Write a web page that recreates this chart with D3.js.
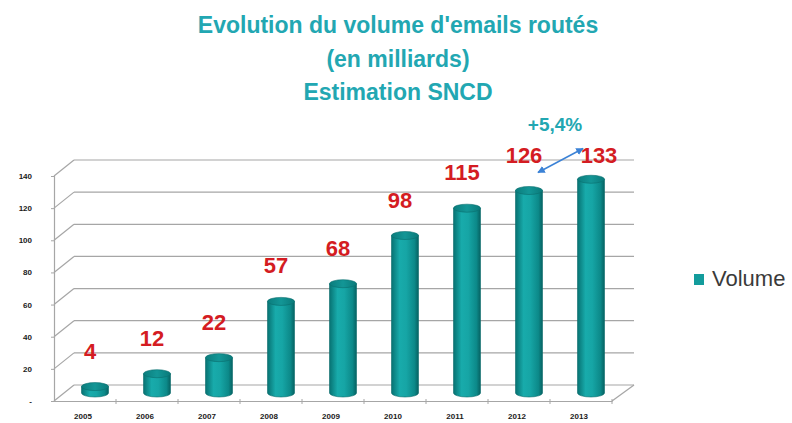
<!DOCTYPE html>
<html>
<head>
<meta charset="utf-8">
<script src="https://cdn.jsdelivr.net/npm/d3@7"></script>
<style>
  html, body { margin: 0; padding: 0; background: #fff; }
  svg { display: block; }
</style>
</head>
<body>
<div id="chart"></div>
<script>
// Chart data
const years = ["2005", "2006", "2007", "2008", "2009", "2010", "2011", "2012", "2013"];
const volumes = [4, 12, 22, 57, 68, 98, 115, 126, 133];
const yTicks = [0, 20, 40, 60, 80, 100, 120, 140];
const titleLines = ["Evolution du volume d'emails routés", "(en milliards)", "Estimation SNCD"];
const growthLabel = "+5,4%";
const seriesName = "Volume";

const width = 792, height = 423;
const teal = "#22a7b2";
const red = "#d41c22";
const gridColor = "#a6a6a6";

const svg = d3.select("#chart").append("svg")
    .attr("width", width)
    .attr("height", height)
    .attr("viewBox", [0, 0, width, height]);

const defs = svg.append("defs");

// cylinder side shading
const grad = defs.append("linearGradient")
    .attr("id", "cyl")
    .attr("x1", "0%").attr("x2", "100%").attr("y1", "0%").attr("y2", "0%");
[["0%", "#077272"], ["30%", "#18abab"], ["55%", "#16a5a5"], ["85%", "#0c8989"], ["100%", "#066262"]]
    .forEach(([o, c]) => grad.append("stop").attr("offset", o).attr("stop-color", c));

const topGrad = defs.append("linearGradient")
    .attr("id", "cylTop")
    .attr("x1", "0%").attr("x2", "100%").attr("y1", "0%").attr("y2", "0%");
[["0%", "#0b7d7d"], ["50%", "#139696"], ["100%", "#0a7a7a"]]
    .forEach(([o, c]) => topGrad.append("stop").attr("offset", o).attr("stop-color", c));

defs.append("marker")
    .attr("id", "arrowhead")
    .attr("viewBox", "0 -5 10 10")
    .attr("refX", 9)
    .attr("refY", 0)
    .attr("markerWidth", 5)
    .attr("markerHeight", 5)
    .attr("orient", "auto-start-reverse")
    .append("path")
    .attr("d", "M0,-5L10,0L0,5Z")
    .attr("fill", "#3b82d6");

// Scales (front plane of the 3D box)
const x = d3.scaleBand()
    .domain(years)
    .range([54, 612])
    .paddingInner(0)
    .paddingOuter(0);

const y = d3.scaleLinear()
    .domain([0, 140])
    .range([401, 176]);

// depth offset of the back wall
const depth = { dx: 20, dy: -16 };

// Title
svg.append("g")
    .selectAll("text")
    .data(titleLines)
    .enter().append("text")
    .attr("x", 398)
    .attr("y", (d, i) => 33 + i * 33.5)
    .attr("text-anchor", "middle")
    .attr("fill", teal)
    .attr("font-family", "'Liberation Sans', Arial, sans-serif")
    .attr("font-weight", "bold")
    .attr("font-size", "23px")
    .text(d => d);

// Walls: left wall edges and back gridlines
const grid = svg.append("g").attr("class", "grid")
    .attr("stroke", gridColor)
    .attr("stroke-width", 1.2)
    .attr("fill", "none");

grid.selectAll("line.back")
    .data(yTicks)
    .enter().append("line")
    .attr("class", "back")
    .attr("x1", x.range()[0] + depth.dx)
    .attr("x2", x.range()[1] + depth.dx + 2)
    .attr("y1", d => y(d) + depth.dy)
    .attr("y2", d => y(d) + depth.dy);

grid.selectAll("line.side")
    .data(yTicks)
    .enter().append("line")
    .attr("class", "side")
    .attr("x1", x.range()[0])
    .attr("x2", x.range()[0] + depth.dx)
    .attr("y1", d => y(d))
    .attr("y2", d => y(d) + depth.dy);

// right floor edge
grid.append("line")
    .attr("x1", x.range()[1])
    .attr("y1", y(0))
    .attr("x2", x.range()[1] + depth.dx + 2)
    .attr("y2", y(0) + depth.dy);

// Y axis (front edge of left wall)
const yAxis = svg.append("g")
    .attr("transform", `translate(${x.range()[0]},0)`)
    .call(d3.axisLeft(y)
        .tickValues(yTicks)
        .tickFormat(d => d === 0 ? "-" : d)
        .tickSize(3)
        .tickPadding(19));
yAxis.select(".domain").attr("stroke", gridColor).attr("stroke-width", 1.2);
yAxis.selectAll(".tick line").attr("stroke", gridColor);
yAxis.selectAll(".tick text")
    .attr("fill", "#1a1a1a")
    .attr("font-family", "'Liberation Sans', Arial, sans-serif")
    .attr("font-weight", "bold")
    .attr("font-size", "8px");

// X axis (front edge of floor)
const xAxis = svg.append("g")
    .attr("transform", `translate(0,${y(0)})`)
    .call(d3.axisBottom(x).tickSize(0).tickPadding(12));
xAxis.select(".domain").attr("stroke", gridColor).attr("stroke-width", 1.2);
xAxis.selectAll(".tick text")
    .attr("fill", "#1a1a1a")
    .attr("font-family", "'Liberation Sans', Arial, sans-serif")
    .attr("font-weight", "bold")
    .attr("font-size", "8px")
    .attr("dx", -2);

// tick marks between categories
xAxis.selectAll("line.sep")
    .data(years.slice(1).concat(["end"]))
    .enter().append("line")
    .attr("class", "sep")
    .attr("x1", (d, i) => x.range()[0] + (i + 1) * x.step())
    .attr("x2", (d, i) => x.range()[0] + (i + 1) * x.step())
    .attr("y1", -2)
    .attr("y2", 3)
    .attr("stroke", gridColor);

// Cylinders at mid depth
const r = 13.5, ry = 4;
const cx = d => x(d.year) + x.bandwidth() / 2 + depth.dx / 2;
const yMid = v => y(v) + depth.dy / 2;

const data = years.map((year, i) => ({ year, value: volumes[i] }));

const bars = svg.append("g").attr("class", "bars")
    .selectAll("g")
    .data(data)
    .enter().append("g");

bars.append("path")
    .attr("d", d => {
        const c = cx(d), t = yMid(d.value), b = yMid(0);
        return `M${c - r},${t} L${c - r},${b} A${r},${ry} 0 0 0 ${c + r},${b} L${c + r},${t} Z`;
    })
    .attr("fill", "url(#cyl)")
    .attr("stroke", "#0a6b6b")
    .attr("stroke-width", 0.6);

bars.append("ellipse")
    .attr("cx", cx)
    .attr("cy", d => yMid(d.value))
    .attr("rx", r)
    .attr("ry", ry)
    .attr("fill", "url(#cylTop)")
    .attr("stroke", "#0a6e6e")
    .attr("stroke-width", 0.6);

// Value labels (last one sits level with the previous one, next to the annotation)
const labelY = (d, i) => {
    if (i === data.length - 1) return yMid(volumes[i - 1]) - 28;
    return yMid(d.value) - 28;
};

svg.append("g").attr("class", "labels")
    .selectAll("text")
    .data(data)
    .enter().append("text")
    .attr("x", (d, i) => cx(d) + (i === data.length - 1 ? 8 : -5))
    .attr("y", labelY)
    .attr("text-anchor", "middle")
    .attr("fill", red)
    .attr("font-family", "'Liberation Sans', Arial, sans-serif")
    .attr("font-weight", "bold")
    .attr("font-size", "22px")
    .text(d => d.value);

// Growth annotation between the last two years
const a = data[data.length - 2], bLast = data[data.length - 1];
svg.append("line")
    .attr("x1", cx(a) + 9)
    .attr("y1", labelY(a, data.length - 2) + 10)
    .attr("x2", cx(bLast) - 8)
    .attr("y2", labelY(bLast, data.length - 1) - 14)
    .attr("stroke", "#3b82d6")
    .attr("stroke-width", 1.5)
    .attr("marker-start", "url(#arrowhead)")
    .attr("marker-end", "url(#arrowhead)");

svg.append("text")
    .attr("x", (cx(a) + cx(bLast)) / 2 - 5)
    .attr("y", 131)
    .attr("text-anchor", "middle")
    .attr("fill", teal)
    .attr("font-family", "'Liberation Sans', Arial, sans-serif")
    .attr("font-weight", "bold")
    .attr("font-size", "19px")
    .text(growthLabel);

// Legend
const legend = svg.append("g").attr("transform", "translate(694,274)");
legend.append("rect")
    .attr("width", 10)
    .attr("height", 11)
    .attr("fill", "#139c9c");
legend.append("text")
    .attr("x", 18)
    .attr("y", 12)
    .attr("fill", "#3a3a3a")
    .attr("font-family", "'Liberation Sans', Arial, sans-serif")
    .attr("font-size", "22px")
    .text(seriesName);
</script>
</body>
</html>
